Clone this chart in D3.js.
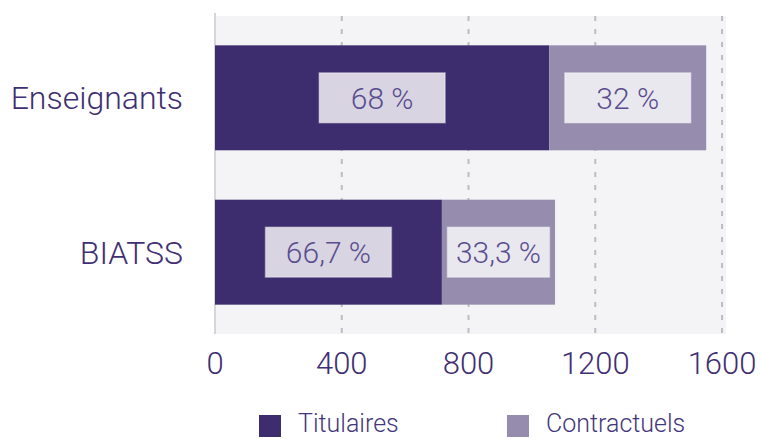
<!DOCTYPE html>
<html>
<head>
<meta charset="utf-8">
<script src="https://cdn.jsdelivr.net/npm/d3@7"></script>
<style>
  body { margin: 0; background: #fff; }
  svg text { font-family: "Helvetica Neue", Roboto, "Liberation Sans", sans-serif; font-weight: 300; }
</style>
</head>
<body>
<div id="chart"></div>
<script>
// Data
const categories = ["Enseignants", "BIATSS"];
const series = ["Titulaires", "Contractuels"];
const titulaires = [1055, 716];
const contractuels = [495, 357];
const pctLabels = [["68 %", "32 %"], ["66,7 %", "33,3 %"]];
const ticks = [0, 400, 800, 1200, 1600];

const colors = {Titulaires: "#3d2c6e", Contractuels: "#968cad"};

const W = 760, H = 439;
const margin = {top: 16, right: 34, bottom: 105, left: 215};
const width = 1600 * 0.3169, // plot width
    height = H - margin.top - margin.bottom;

const svg = d3.select("#chart")
    .append("svg")
    .attr("width", W)
    .attr("height", H);

const g = svg.append("g")
    .attr("transform", "translate(" + margin.left + "," + margin.top + ")");

const x = d3.scaleLinear().domain([0, 1600]).range([0, width]);
const y = d3.scaleBand().domain(categories).range([0, height])
    .paddingInner(0.32).paddingOuter(0.19);

// background
g.append("rect")
    .attr("x", 0).attr("y", 0)
    .attr("width", width + 4).attr("height", height)
    .attr("fill", "#f4f4f6");

// grid lines
g.selectAll(".grid")
    .data(ticks.slice(1))
    .enter().append("line")
    .attr("x1", d => x(d)).attr("x2", d => x(d))
    .attr("y1", 0).attr("y2", height)
    .attr("stroke", "#bdbdc1")
    .attr("stroke-width", 2)
    .attr("stroke-dasharray", "5,8");

// left axis line
g.append("line")
    .attr("x1", 0).attr("x2", 0)
    .attr("y1", -3).attr("y2", height)
    .attr("stroke", "#d6d6da")
    .attr("stroke-width", 2);

// stacked rows
const rows = categories.map((c, i) => ({
    cat: c,
    segs: [
        {name: "Titulaires", x0: 0, x1: titulaires[i], label: pctLabels[i][0]},
        {name: "Contractuels", x0: titulaires[i], x1: titulaires[i] + contractuels[i], label: pctLabels[i][1]}
    ]
}));

rows.forEach(r => {
    const row = g.append("g").attr("transform", "translate(0," + y(r.cat) + ")");
    row.selectAll("rect.bar")
        .data(r.segs)
        .enter().append("rect")
        .attr("class", "bar")
        .attr("x", d => x(d.x0))
        .attr("width", d => x(d.x1) - x(d.x0))
        .attr("height", y.bandwidth())
        .attr("fill", d => colors[d.name]);

    r.segs.forEach(d => {
        const cx = (x(d.x0) + x(d.x1)) / 2,
            cy = y.bandwidth() / 2;
        const box = row.append("rect");
        const t = row.append("text")
            .attr("x", cx).attr("y", cy)
            .attr("text-anchor", "middle")
            .attr("dy", "0.36em")
            .attr("font-size", 30)
            .attr("fill", "#5a4d8f")
            .text(d.label);
        const tw = t.node().getComputedTextLength();
        const segW = x(d.x1) - x(d.x0);
        const bw = Math.min(Math.max(tw + 24, 126), segW - 11);
        box.attr("x", cx - bw / 2).attr("y", cy - 25)
            .attr("width", bw).attr("height", 50)
            .attr("fill", "rgba(255,255,255,0.8)")
            .attr("stroke", "rgba(255,255,255,0.35)")
            .attr("stroke-width", 1.5);
    });
});

// category labels
g.selectAll(".cat")
    .data(categories)
    .enter().append("text")
    .attr("x", -32)
    .attr("y", d => y(d) + y.bandwidth() / 2)
    .attr("dy", "0.36em")
    .attr("text-anchor", "end")
    .attr("font-size", 32)
    .attr("fill", "#3f2f73")
    .text(d => d);

// x tick labels
g.selectAll(".tick")
    .data(ticks)
    .enter().append("text")
    .attr("x", d => x(d))
    .attr("y", height + 40)
    .attr("text-anchor", "middle")
    .attr("font-size", 31)
    .attr("fill", "#3f2f73")
    .text(d => d);

// legend
const legendX = [259, 507];
const legend = svg.selectAll(".legend")
    .data(series)
    .enter().append("g")
    .attr("transform", (d, i) => "translate(" + legendX[i] + ",415)");
legend.append("rect")
    .attr("width", 22).attr("height", 22)
    .attr("fill", d => colors[d]);
legend.append("text")
    .attr("x", 39).attr("y", 8)
    .attr("dy", "0.34em")
    .attr("font-size", 25)
    .attr("fill", "#45377b")
    .text(d => d);
</script>
</body>
</html>
